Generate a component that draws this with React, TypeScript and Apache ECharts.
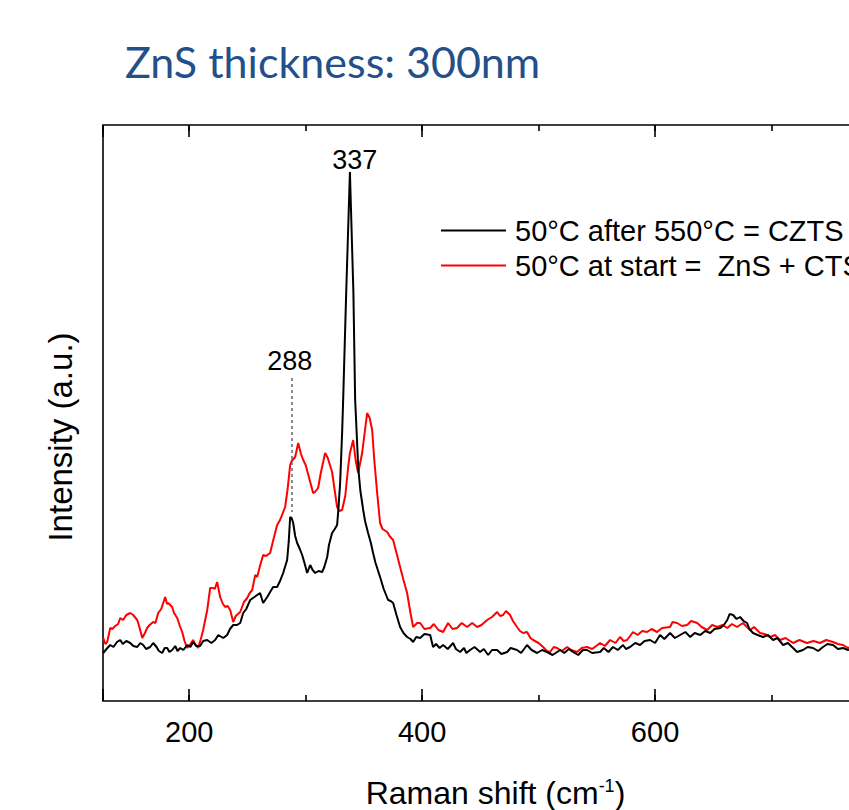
import React, { useEffect, useRef } from "react";
import * as echarts from "echarts";

// Raman shift (cm-1), intensity (a.u.)
const czts: [number, number][] = [
  [126.2, 48], [129, 52], [132.2, 56], [135, 54], [138, 59], [140.8, 61], [143, 57], [146, 60], [149.4, 58],
  [152, 55], [155.4, 54], [158, 58], [160.5, 56], [163, 52], [166.5, 54], [169.1, 58], [172, 54], [174, 50],
  [176.8, 48], [179, 53], [181.1, 53], [183, 49], [185.4, 51], [188, 55], [190, 50], [192.3, 53], [195, 51],
  [198.3, 56], [201, 54], [203.4, 59], [206, 55], [209.4, 55], [212, 60], [215.5, 61], [219, 58], [222.3, 61],
  [225, 66], [229.2, 63], [232.6, 66], [235, 72], [237.8, 76], [241, 76], [243.8, 78], [246.4, 88], [249, 92],
  [252.4, 101], [256, 104], [260.9, 108], [263.5, 98], [267.0, 104], [270, 110], [272.1, 114], [275.5, 114],
  [278, 120], [280.7, 128], [284.1, 141], [285.5, 160], [286.7, 184], [288, 183], [289.3, 178], [291, 165],
  [292.7, 158], [295, 152], [297.0, 146], [299, 138], [301.3, 128], [303.9, 136], [306, 131], [308.2, 128],
  [311, 130], [314.2, 129], [316, 134], [318.5, 144], [320, 156], [322.7, 168], [325, 172], [327.0, 176],
  [328, 190], [329.6, 218], [331.3, 268], [332.2, 301], [334.8, 408], [338.0, 529], [341.0, 408], [342.5, 301],
  [343.3, 281], [345.1, 234], [347, 210], [349.4, 191], [351, 180], [353.6, 168], [356, 158], [357.9, 148],
  [360, 138], [363.9, 124], [367, 112], [370.8, 101], [373, 100], [375.1, 98], [378, 86], [381.1, 74], [384, 68],
  [387.1, 64], [390, 62], [392.3, 59], [395, 64], [398.3, 63], [402, 67], [406.9, 66], [409.4, 54], [412, 57],
  [415, 53], [418.0, 56], [422, 52], [426.6, 58], [429, 52], [432.6, 49], [436, 53], [438, 48], [441.2, 51],
  [445, 54], [449.8, 49], [453, 52], [456.7, 46], [460, 51], [464.4, 51], [468, 47], [473.0, 49], [476, 53],
  [481.5, 51], [485, 48], [490.1, 56], [494, 51], [498.7, 48], [503, 51], [507.3, 49], [512, 46], [518.5, 51],
  [522, 48], [526, 52], [529.6, 49], [534, 46], [538, 51], [541.6, 51], [546, 48], [552.8, 49], [556, 53],
  [560, 49], [563.9, 54], [568, 51], [572.5, 56], [575, 52], [578.5, 54], [583, 58], [587.1, 56], [591, 60],
  [595.7, 61], [600, 58], [604.3, 66], [608, 62], [612.9, 68], [617, 63], [621.5, 66], [626, 69], [630.2, 64],
  [634, 68], [638.8, 66], [643, 70], [647.4, 68], [651, 72], [656.0, 73], [659, 76], [662.0, 81], [664, 87],
  [667.0, 86], [670, 82], [673.0, 84], [676, 80], [679.0, 78], [681, 72], [684.1, 68], [688, 66], [692.7, 64],
  [697, 66], [701.3, 61], [705, 63], [709.9, 56], [714, 58], [718.5, 53], [722, 49], [727.0, 51], [731, 54],
  [735.6, 53], [740, 50], [744.2, 54], [748, 57], [752.8, 56], [757, 52], [761.4, 53], [765.7, 51], [770, 52],
];

const znsCts: [number, number][] = [
  [126.2, 63], [128, 57], [129.6, 59], [132.2, 73], [134, 72], [136.5, 75], [139, 77], [140.8, 83], [143.3, 81],
  [146, 86], [149.4, 88], [151.9, 86], [155.4, 81], [157, 75], [159.7, 63], [162, 68], [163.9, 73], [166, 76],
  [169.1, 79], [171, 78], [173.4, 88], [176, 92], [179.4, 104], [181, 97], [182.0, 98], [185.4, 94], [187, 88],
  [189.7, 83], [192, 75], [194.0, 69], [196, 60], [198.3, 53], [201, 57], [203.4, 61], [205, 57], [207.7, 53],
  [210, 62], [212.0, 71], [215.5, 91], [218.0, 113], [220.6, 113], [222, 112], [224.0, 119], [226.6, 104],
  [229, 97], [230.9, 94], [233, 95], [235.2, 91], [237.8, 79], [240, 85], [243.8, 89], [247, 99], [249.8, 103],
  [252, 108], [254.1, 111], [256.7, 126], [258.4, 124], [261, 136], [263.5, 146], [266, 145], [269.5, 148],
  [272, 160], [275.5, 176], [278, 181], [282.4, 194], [284.5, 212], [286.7, 236], [288, 240], [291.0, 244],
  [293.6, 258], [296, 247], [297.9, 241], [300, 236], [303.9, 219], [306.4, 208], [308, 209], [310.7, 213],
  [313, 228], [316.7, 248], [319, 243], [322.7, 229], [325, 210], [327.0, 194], [329, 190], [331.3, 191],
  [334, 205], [336.5, 234], [338, 248], [340.8, 261], [343, 240], [345.1, 228], [348.5, 248], [350, 262],
  [352.8, 288], [355, 283], [357.1, 271], [359, 240], [361.4, 208], [363.9, 178], [366, 172], [370.0, 169],
  [372, 165], [375.1, 161], [378, 148], [381.1, 134], [384, 121], [387.1, 108], [390, 88], [392.3, 74],
  [395.7, 78], [398.3, 78], [402, 72], [406.9, 73], [410, 77], [414, 71], [418.0, 69], [422.3, 78], [426, 72],
  [430.0, 73], [434, 78], [438.6, 74], [443, 78], [447.2, 74], [451, 76], [455.8, 81], [460, 84], [464.4, 89],
  [467, 85], [469.5, 86], [472, 90], [475.5, 86], [478, 80], [481.5, 74], [484, 70], [486.7, 68], [490.1, 69],
  [493, 63], [495.3, 61], [500, 58], [503.9, 54], [507, 50], [509.9, 49], [513, 54], [515.9, 53], [520, 50],
  [524.5, 54], [528, 51], [533.0, 49], [537, 53], [541.6, 54], [546, 52], [552.8, 58], [557, 55], [561.4, 61],
  [566, 58], [569.9, 64], [573, 60], [576.0, 61], [581.1, 69], [585, 66], [589, 70], [593.1, 69], [597, 72],
  [601.7, 69], [606, 73], [612.9, 74], [615, 79], [618.9, 78], [623, 75], [627.5, 76], [631, 80], [636.2, 78],
  [640, 74], [644.8, 71], [649, 76], [653.4, 74], [658, 76], [662.0, 73], [666, 77], [670.4, 74], [675.5, 78],
  [678, 75], [681.5, 71], [685, 74], [690.1, 68], [694, 67], [698.7, 64], [703, 66], [707.3, 61], [712, 63],
  [718.5, 58], [724, 61], [730.4, 58], [736, 60], [741.6, 58], [747, 61], [752.8, 59], [757, 57], [761.4, 56],
  [765.7, 53], [770, 55],
];

const seriesNames = ["50°C after 550°C = CZTS", "50°C at start =  ZnS + CTS"];
const peakPositions = [288, 337];
const peakLabelHeights = [340, 541];
const dashedFromTo = [323, 189];

const FONT = "'Liberation Sans', Arial, sans-serif";

export default function App() {
  const ref = useRef<HTMLDivElement>(null);
  useEffect(() => {
    if (!ref.current) return;
    const chart = echarts.init(ref.current, null, { renderer: "svg" });
    const baseX = {
      type: "value" as const,
      min: 126,
      max: 800,
      axisLine: { show: false },
      splitLine: { show: false },
    };
    chart.setOption({
      animation: false,
      backgroundColor: "#fff",
      title: {
        text: "ZnS thickness: 300nm",
        left: 120,
        top: 35,
        textStyle: { fontFamily: "Lato, 'Noto Sans', sans-serif", fontSize: 43, fontWeight: "normal", color: "#24508A" },
      },
      grid: {
        left: 103,
        top: 125,
        width: 785,
        height: 576,
        show: true,
        borderColor: "#000",
        borderWidth: 1.6,
        backgroundColor: "transparent",
        outerBoundsMode: "none",
        containLabel: false,
      },
      legend: {
        orient: "vertical",
        left: 441,
        top: 216,
        padding: 0,
        icon: "rect",
        itemWidth: 65,
        itemHeight: 2,
        itemGap: 6,
        data: seriesNames,
        textStyle: { fontFamily: FONT, fontSize: 29, color: "#000", lineHeight: 27, padding: [0, 0, 0, 4] },
      },
      xAxis: [
        {
          ...baseX,
          position: "bottom",
          splitNumber: 3,
          axisTick: { show: true, inside: true, length: 12, lineStyle: { color: "#000", width: 1.6 } },
          axisLabel: {
            show: true,
            margin: 16,
            fontFamily: FONT,
            fontSize: 29,
            color: "#000",
            formatter: (v: number) => (v % 200 === 0 && v < 800 ? String(v) : ""),
          },
          name: "{a|Raman shift (cm}{b|-1}{a|)}",
          nameLocation: "middle",
          nameGap: 76,
          nameTextStyle: {
            rich: {
              a: { fontFamily: FONT, fontSize: 32, color: "#000" },
              b: { fontFamily: FONT, fontSize: 18, color: "#000", verticalAlign: "bottom", padding: [0, 0, 14, 0] },
            },
          },
        },
        {
          ...baseX,
          position: "bottom",
          splitNumber: 7,
          axisTick: { show: true, inside: true, length: 6, lineStyle: { color: "#000", width: 1.6 } },
          axisLabel: { show: false },
        },
        {
          ...baseX,
          position: "top",
          splitNumber: 3,
          axisTick: { show: true, inside: true, length: 12, lineStyle: { color: "#000", width: 1.6 } },
          axisLabel: { show: false },
        },
        {
          ...baseX,
          position: "top",
          splitNumber: 7,
          axisTick: { show: true, inside: true, length: 6, lineStyle: { color: "#000", width: 1.6 } },
          axisLabel: { show: false },
        },
      ],
      yAxis: {
        type: "value",
        min: 0,
        max: 576,
        axisLine: { show: false },
        axisTick: { show: false },
        axisLabel: { show: false },
        splitLine: { show: false },
      },
      graphic: [
        {
          type: "text",
          x: 60,
          y: 437,
          rotation: Math.PI / 2,
          style: {
            text: "Intensity (a.u.)",
            fontFamily: FONT,
            fontSize: 33,
            fill: "#000",
            textAlign: "center",
            textVerticalAlign: "middle",
          },
        },
      ],
      series: [
        {
          name: seriesNames[0],
          type: "line",
          data: czts,
          symbol: "none",
          z: 3,
          lineStyle: { color: "#000", width: 2 },
          itemStyle: { color: "#000" },
          markLine: {
            silent: true,
            symbol: "none",
            label: { show: false },
            lineStyle: { color: "#666", type: [3, 3], width: 1.5 },
            data: [[{ coord: [peakPositions[0], dashedFromTo[0]] }, { coord: [peakPositions[0], dashedFromTo[1]] }]],
          },
          markPoint: {
            symbol: "circle",
            symbolSize: 0,
            label: { show: true, position: "inside", fontFamily: FONT, fontSize: 27, color: "#000" },
            data: peakPositions.map((p, i) => ({
              coord: [p, peakLabelHeights[i]],
              label: { formatter: String(p), offset: [i === 1 ? 6 : -2, 0] },
            })),
          },
        },
        {
          name: seriesNames[1],
          type: "line",
          data: znsCts,
          symbol: "none",
          z: 2,
          lineStyle: { color: "#FF0000", width: 2 },
          itemStyle: { color: "#FF0000" },
        },
      ],
    });
    return () => chart.dispose();
  }, []);
  return (
    <div style={{ position: "fixed", left: 0, top: 0, width: 849, height: 810, overflow: "hidden", background: "#fff" }}>
      <div ref={ref} style={{ width: 900, height: 810 }} />
    </div>
  );
}
